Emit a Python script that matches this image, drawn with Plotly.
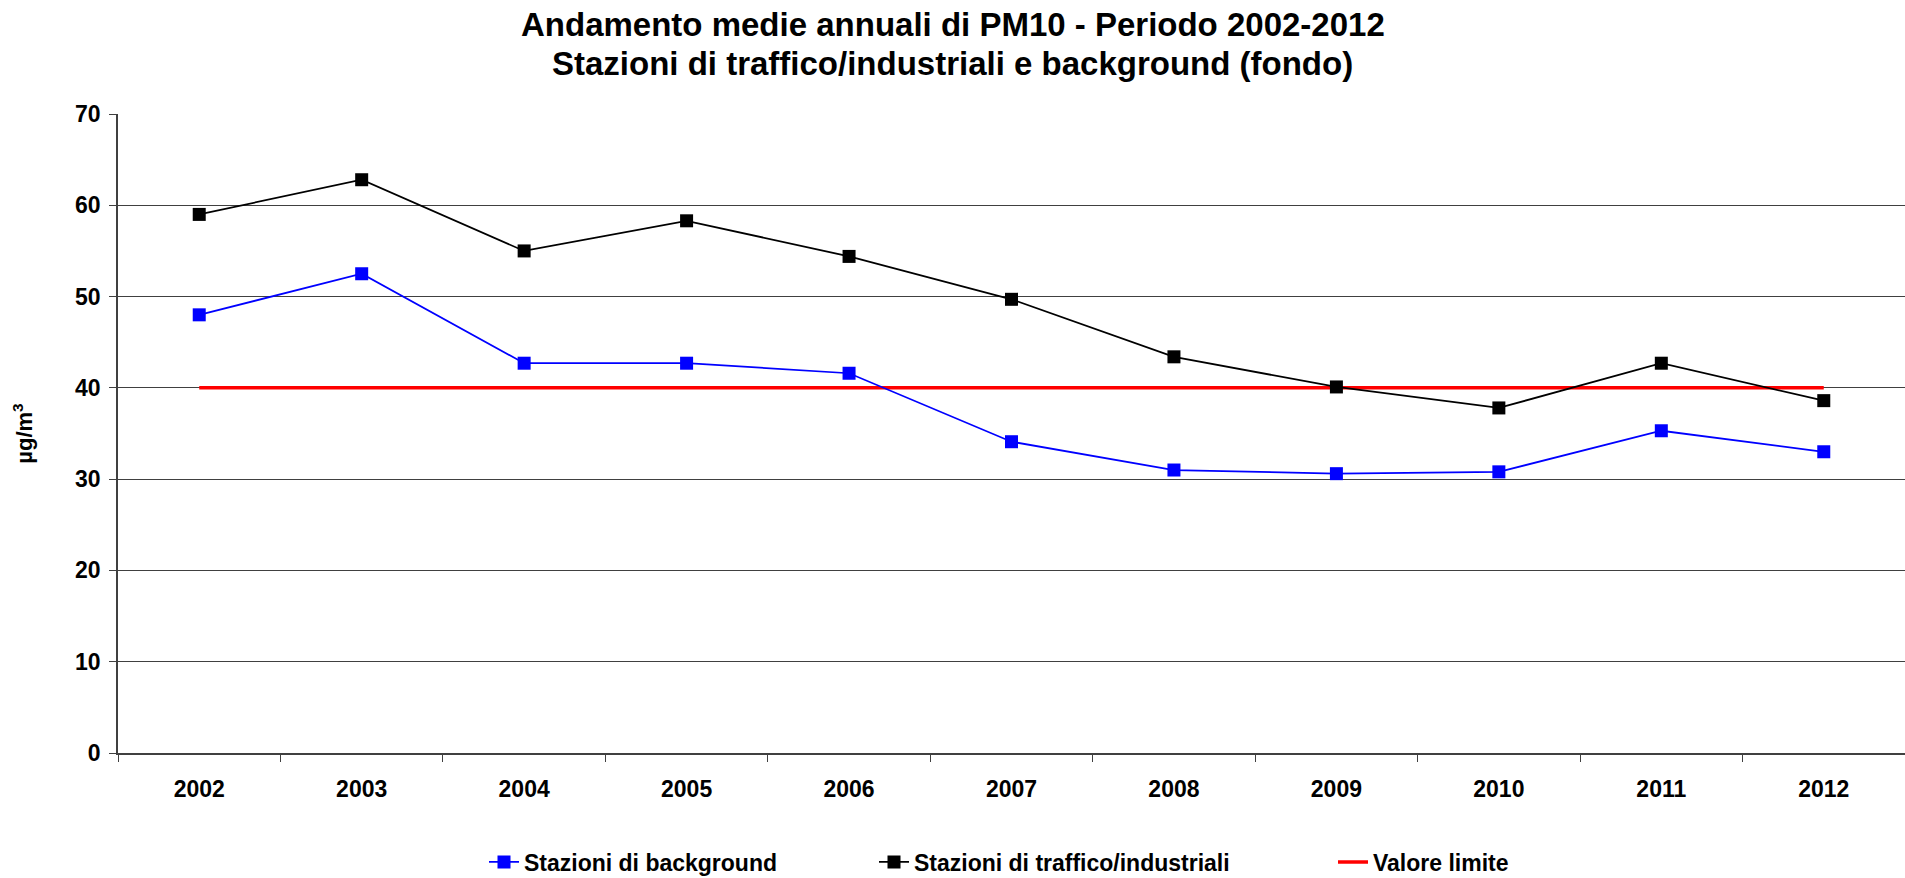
import plotly.graph_objects as go

years = ["2002", "2003", "2004", "2005", "2006", "2007", "2008", "2009", "2010", "2011", "2012"]
background = [48.0, 52.5, 42.7, 42.7, 41.6, 34.1, 31.0, 30.6, 30.8, 35.3, 33.0]
traffico = [59.0, 62.8, 55.0, 58.3, 54.4, 49.7, 43.4, 40.1, 37.8, 42.7, 38.6]
limite = [40] * len(years)
title_lines = ["Andamento medie annuali di PM10 - Periodo 2002-2012",
               "Stazioni di traffico/industriali e background (fondo)"]

FONT = "Liberation Sans, Arial, sans-serif"
W, H = 1905, 878
L, R, T, B = 118, 0, 114, 125
PW, PH = W - L - R, H - T - B

fig = go.Figure()
fig.add_trace(go.Scatter(
    x=years, y=limite, mode="lines", name="Valore limite",
    line=dict(color="#FF0000", width=3.5), legend="legend3"))
fig.add_trace(go.Scatter(
    x=years, y=background, mode="lines+markers", name="Stazioni di background",
    line=dict(color="#0000FF", width=1.75),
    marker=dict(symbol="square", size=13, color="#0000FF"), legend="legend"))
fig.add_trace(go.Scatter(
    x=years, y=traffico, mode="lines+markers", name="Stazioni di traffico/industriali",
    line=dict(color="#000000", width=1.75),
    marker=dict(symbol="square", size=13, color="#000000"), legend="legend2"))

leg_common = dict(orientation="h", xref="container", yref="container",
                  yanchor="middle", xanchor="left", y=(H - 862) / H,
                  font=dict(family=FONT, size=23, color="black", weight="bold"),
                  bgcolor="rgba(0,0,0,0)")

title_font = dict(family=FONT, size=33, color="black", weight="bold")
annotations = [
    dict(text=title_lines[0], xref="paper", yref="paper",
         x=(W / 2 - L) / PW, y=(H - B - 24.5) / PH,
         xanchor="center", yanchor="middle", showarrow=False, font=title_font),
    dict(text=title_lines[1], xref="paper", yref="paper",
         x=(W / 2 - L) / PW, y=(H - B - 64) / PH,
         xanchor="center", yanchor="middle", showarrow=False, font=title_font),
]

fig.update_layout(
    width=W, height=H,
    paper_bgcolor="white", plot_bgcolor="white",
    margin=dict(l=L, r=R, t=T, b=B),
    annotations=annotations,
    legend=dict(x=(525 - 41) / W, **leg_common),
    legend2=dict(x=(916 - 42) / W, **leg_common),
    legend3=dict(x=(1374 - 41) / W, **leg_common),
    xaxis=dict(
        type="category", range=[-0.5, 10.5], tickson="boundaries",
        ticks="outside", ticklen=7, tickcolor="#404040",
        showline=True, linecolor="#404040", linewidth=1.5,
        showgrid=False, ticklabelstandoff=15, automargin=False,
        tickfont=dict(family=FONT, size=23, color="black", weight="bold")),
    yaxis=dict(
        range=[0, 70], dtick=10, ticks="outside", ticklen=7, tickcolor="#404040",
        showline=True, linecolor="#404040", linewidth=1.5,
        showgrid=True, gridcolor="#404040", gridwidth=1, zeroline=False,
        ticklabelstandoff=4, automargin=False,
        tickfont=dict(family=FONT, size=23, color="black", weight="bold")),
    showlegend=True,
)
fig.update_yaxes(title=dict(text="µg/m<sup>3</sup>", standoff=36,
                            font=dict(family=FONT, size=22, color="black", weight="bold")))

fig.write_html("out.html", config={"displayModeBar": False},
               post_script="document.body.style.margin='0';")
